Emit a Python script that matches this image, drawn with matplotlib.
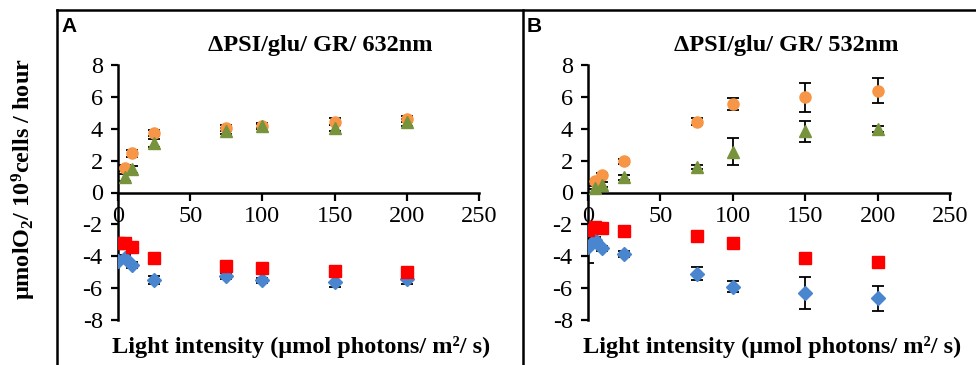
import matplotlib
matplotlib.use("Agg")
import matplotlib.pyplot as plt
from matplotlib.lines import Line2D

plt.rcParams['font.family'] = ['Liberation Serif', 'DejaVu Serif']
plt.rcParams['axes.unicode_minus'] = False
plt.rcParams['mathtext.fontset'] = 'custom'
plt.rcParams['mathtext.rm'] = 'Liberation Serif'
plt.rcParams['mathtext.bf'] = 'Liberation Serif:bold'
plt.rcParams['mathtext.it'] = 'Liberation Serif:italic'

# ---- data ----
x_neg = [0, 5, 10, 25, 75, 100, 150, 200]
x_pos = [5, 10, 25, 75, 100, 150, 200]

# Panel A (632 nm)
a_circle = [1.55, 2.45, 3.75, 4.05, 4.2, 4.45, 4.6]
a_circle_err = [0.2, 0.2, 0.2, 0.2, 0.15, 0.2, 0.2]
a_tri = [0.95, 1.45, 3.1, 3.85, 4.15, 4.05, 4.4]
a_tri_err = [0.2, 0.2, 0.25, 0.2, 0.15, 0.2, 0.2]
a_square = [-3.15, -3.15, -3.4, -4.1, -4.6, -4.75, -4.95, -5.0]
a_square_err = [0.1, 0.1, 0.15, 0.2, 0.2, 0.2, 0.3, 0.2]
a_diamond = [-4.3, -4.1, -4.55, -5.5, -5.25, -5.5, -5.6, -5.45]
a_diamond_err = [0.1, 0.15, 0.2, 0.25, 0.2, 0.15, 0.3, 0.3]

# Panel B (532 nm)
b_circle = [0.7, 1.1, 1.95, 4.45, 5.55, 5.97, 6.4]
b_circle_err = [0.1, 0.15, 0.15, 0.2, 0.4, 0.92, 0.77]
b_tri = [0.3, 0.5, 0.95, 1.6, 2.55, 3.85, 4.0]
b_tri_err = [0.1, 0.15, 0.15, 0.15, 0.85, 0.65, 0.2]
b_square = [-2.35, -2.15, -2.25, -2.4, -2.75, -3.15, -4.1, -4.35]
b_square_err = [0.1, 0.1, 0.15, 0.15, 0.2, 0.25, 0.3, 0.15]
b_diamond = [-3.4, -2.95, -3.5, -3.85, -5.1, -5.9, -6.3, -6.65]
b_diamond_err = [1.0, 0.15, 0.15, 0.2, 0.4, 0.35, 1.0, 0.78]

titles = ["ΔPSI/glu/ GR/ 632nm", "ΔPSI/glu/ GR/ 532nm"]
panel_letters = ["A", "B"]
xticks = [0, 50, 100, 150, 200, 250]
yticks = [-8, -6, -4, -2, 0, 2, 4, 6, 8]

c_orange = "#F79646"
c_green = "#77933C"
c_red = "#FF0000"
c_blue = "#4A86D0"

W, H = 976, 365
fig = plt.figure(figsize=(W / 100, H / 100), dpi=100)

def fx(px):
    return px / W

def fy(py):
    return 1 - py / H

axes_px = [(118, 479), (588, 950)]
panels = [
    (a_circle, a_circle_err, a_tri, a_tri_err, a_square, a_square_err, a_diamond, a_diamond_err),
    (b_circle, b_circle_err, b_tri, b_tri_err, b_square, b_square_err, b_diamond, b_diamond_err),
]
title_cx = [320, 786]
letter_x = [61, 527]

for i, (x0, x1) in enumerate(axes_px):
    ax = fig.add_axes([fx(x0), fy(320), fx(x1 - x0), (320 - 65) / H])
    ci, cie, tr, tre, sq, sqe, di, die = panels[i]
    ek = dict(ecolor='black', elinewidth=1.3, capsize=4, capthick=1.3, linestyle='none')
    ax.errorbar(x_neg, di, yerr=die, zorder=2, **ek)
    ax.errorbar(x_neg, sq, yerr=sqe, zorder=2, **ek)
    ax.errorbar(x_pos, ci, yerr=cie, zorder=2, **ek)
    ax.errorbar(x_pos, tr, yerr=tre, zorder=2, **ek)
    ax.plot(x_neg, di, linestyle='none', marker='D', markersize=7, color=c_blue, zorder=3)
    ax.plot(x_neg, sq, linestyle='none', marker='s', markersize=8, color=c_red, zorder=4)
    ax.plot(x_pos, ci, linestyle='none', marker='o', markersize=8, color=c_orange, zorder=3)
    ax.plot(x_pos, tr, linestyle='none', marker='^', markersize=9, color=c_green, zorder=4)

    ax.set_xlim(0, 250)
    ax.set_ylim(-8, 8)
    ax.set_xticks(xticks)
    ax.set_yticks(yticks)
    ax.spines['top'].set_visible(False)
    ax.spines['right'].set_visible(False)
    ax.spines['bottom'].set_position(('data', 0))
    ax.spines['left'].set_linewidth(1.8)
    ax.spines['bottom'].set_linewidth(1.8)
    ax.tick_params(axis='y', direction='out', length=5, width=1.6, labelsize=17.5, pad=6)
    ax.tick_params(axis='x', direction='out', length=6, width=1.6, labelsize=17.5, pad=4)
    ax.patch.set_alpha(0)
    for sp in ax.spines.values():
        sp.set_clip_on(False)

    fig.text(fx(title_cx[i]), fy(45), titles[i], ha='center', va='center',
             fontsize=17.5, fontweight='bold')
    fig.text(fx((x0 + x1) / 2 + 3), fy(347), "Light intensity (μmol photons/ m²/ s)",
             ha='center', va='center', fontsize=17.5, fontweight='bold')
    fig.text(fx(letter_x[i]), fy(27), panel_letters[i], ha='left', va='center',
             fontsize=15, fontweight='bold', family=['Liberation Sans', 'DejaVu Sans'])

fig.text(fx(24), fy(179), r"μmolO$\mathbf{_2}$/ 10$\mathbf{^9}$cells / hour",
         rotation=90, ha='center', va='center', fontsize=17.5, fontweight='bold')

# panel frames
lw = 1.8
fig.add_artist(Line2D([fx(57), 1.0], [fy(10), fy(10)], color='black', lw=lw))
fig.add_artist(Line2D([fx(57), fx(57)], [0, fy(10)], color='black', lw=lw))
fig.add_artist(Line2D([fx(523), fx(523)], [0, fy(10)], color='black', lw=lw))

fig.savefig("out.png", dpi=100)
